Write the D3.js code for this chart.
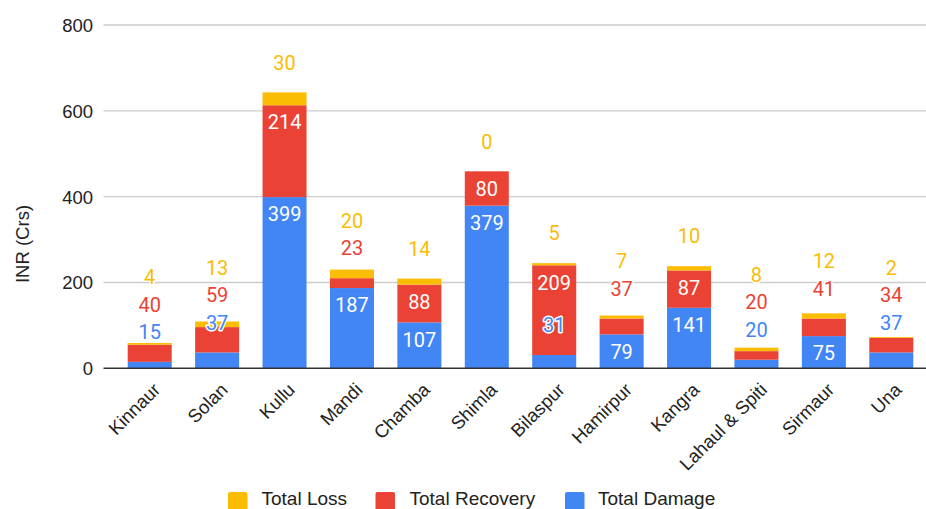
<!DOCTYPE html>
<html>
<head>
<meta charset="utf-8">
<script src="https://cdn.jsdelivr.net/npm/d3@7"></script>
<style>
  html, body { margin: 0; padding: 0; background: #fff; }
  svg { display: block; }
  .tick-label { font-family: "Liberation Sans", Arial, sans-serif; font-size: 18.5px; fill: #222; }
  .ann { font-family: Roboto, "Noto Sans", sans-serif; font-size: 20px; }
</style>
</head>
<body>
<svg id="chart" width="926" height="509"></svg>
<script>
// District-wise figures, INR crores
const districts = ["Kinnaur", "Solan", "Kullu", "Mandi", "Chamba", "Shimla", "Bilaspur",
                   "Hamirpur", "Kangra", "Lahaul & Spiti", "Sirmaur", "Una"];
const totalDamage   = [15, 37, 399, 187, 107, 379, 31, 79, 141, 20, 75, 37];
const totalRecovery = [40, 59, 214, 23, 88, 80, 209, 37, 87, 20, 41, 34];
const totalLoss     = [4, 13, 30, 20, 14, 0, 5, 7, 10, 8, 12, 2];
const yTicks = [0, 200, 400, 600, 800];

const seriesNames  = ["Total Damage", "Total Recovery", "Total Loss"];
const seriesColors = ["#4285F4", "#EA4335", "#FBBC04"];

const svg = d3.select("#chart");
const plotLeft = 103.5, plotRight = 926;
const y0 = 368.3, yTop = 25;

const rows = districts.map((d, i) => ({
  district: d,
  "Total Damage": totalDamage[i],
  "Total Recovery": totalRecovery[i],
  "Total Loss": totalLoss[i]
}));
const stacked = d3.stack().keys(seriesNames)(rows);

const x = d3.scaleBand()
  .domain(districts)
  .range([116, 925])
  .paddingInner(0.347)
  .paddingOuter(0.1735);

const y = d3.scaleLinear().domain([0, 800]).range([y0, yTop]);

// gridlines
svg.append("g")
  .selectAll("line")
  .data(yTicks.filter(t => t > 0))
  .join("line")
  .attr("x1", plotLeft).attr("x2", plotRight)
  .attr("y1", d => y(d)).attr("y2", d => y(d))
  .attr("stroke", "#cccccc").attr("stroke-width", 1.3);

// y tick labels
const yAxis = d3.axisLeft(y).tickValues(yTicks).tickSize(0).tickPadding(0);
const gy = svg.append("g").attr("transform", `translate(93,0)`).call(yAxis);
gy.select(".domain").remove();
gy.selectAll("text").attr("class", "tick-label").attr("dy", "0.35em")
  .attr("font-family", null).attr("font-size", null);

// y title
svg.append("text")
  .attr("class", "tick-label")
  .attr("transform", `translate(29,244) rotate(-90)`)
  .attr("text-anchor", "middle")
  .text("INR (Crs)");

// bars
stacked.forEach((layer, si) => {
  svg.append("g")
    .attr("fill", seriesColors[si])
    .selectAll("rect")
    .data(layer)
    .join("rect")
    .attr("x", d => x(d.data.district))
    .attr("width", x.bandwidth())
    .attr("y", d => y(d[1]))
    .attr("height", d => Math.max(0, y(d[0]) - y(d[1])));
});

// baseline
svg.append("line")
  .attr("x1", plotLeft).attr("x2", plotRight)
  .attr("y1", y0).attr("y2", y0)
  .attr("stroke", "#333").attr("stroke-width", 1.5);

// value annotations: inside the segment when tall enough, otherwise stacked above
const annG = svg.append("g");
districts.forEach((d, i) => {
  const cx = x(d) + x.bandwidth() / 2;
  let lastOutside = Infinity;
  stacked.forEach((layer, si) => {
    const seg = layer[i];
    const top = y(seg[1]);
    const h = y(seg[0]) - top;
    const val = seg.data[seriesNames[si]];
    if (h >= 30) {
      annG.append("text")
        .attr("class", "ann")
        .attr("x", cx).attr("y", top + 17)
        .attr("dy", "0.36em")
        .attr("text-anchor", "middle")
        .attr("fill", "#fff")
        .text(val);
    } else {
      const cy = Math.min(top - 30, lastOutside - 27.5);
      lastOutside = cy;
      annG.append("text")
        .attr("class", "ann")
        .attr("x", cx).attr("y", cy)
        .attr("dy", "0.36em")
        .attr("text-anchor", "middle")
        .attr("fill", seriesColors[si])
        .attr("stroke", "#fff").attr("stroke-width", 3)
        .attr("stroke-linejoin", "round")
        .attr("paint-order", "stroke")
        .text(val);
    }
  });
});

// category labels, slanted
const gx = svg.append("g");
gx.selectAll("text")
  .data(districts)
  .join("text")
  .attr("class", "tick-label")
  .attr("text-anchor", "end")
  .attr("transform", d => `translate(${x(d) + x.bandwidth() / 2 + 7},${y0 + 18}) rotate(-45)`)
  .attr("dy", "0.35em")
  .text(d => d);

// legend
const legendItems = [
  { i: 2, sx: 228, tx: 261.5 },
  { i: 1, sx: 375.5, tx: 409.5 },
  { i: 0, sx: 565, tx: 598 }
];
const lg = svg.append("g");
legendItems.forEach(it => {
  lg.append("rect")
    .attr("x", it.sx).attr("y", 492).attr("width", 19.5).attr("height", 19.5)
    .attr("rx", 2).attr("fill", seriesColors[it.i]);
  lg.append("text")
    .attr("x", it.tx).attr("y", 504.5)
    .attr("font-family", "'Liberation Sans', Arial, sans-serif")
    .attr("font-size", 19)
    .attr("fill", "#222")
    .text(seriesNames[it.i]);
});
</script>
</body>
</html>
